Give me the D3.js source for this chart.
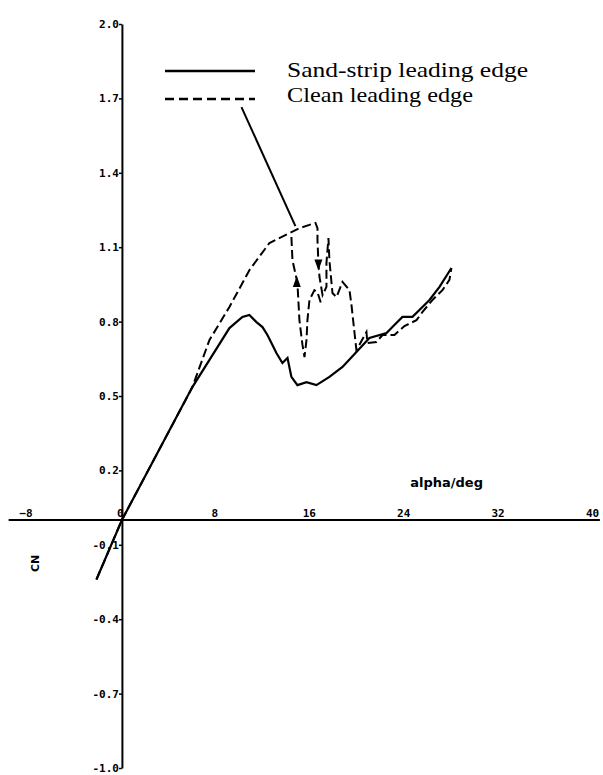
<!DOCTYPE html>
<html>
<head>
<meta charset="utf-8">
<script src="https://cdn.jsdelivr.net/npm/d3@7"></script>
<style>
  html, body { margin: 0; padding: 0; background: #fff; }
  svg { display: block; }
  .tick text { font-family: "DejaVu Sans Mono", monospace; font-weight: bold; font-size: 11px; fill: #000; }
</style>
</head>
<body>
<script>
// ---- data ----
const alphaTicks = [-8, 0, 8, 16, 24, 32, 40];
const cnTicks = [2.0, 1.7, 1.4, 1.1, 0.8, 0.5, 0.2, -0.1, -0.4, -0.7, -1.0];

// Sand-strip leading edge (solid)
const sandAlpha = [-2.16, 0, 5.97, 9.11, 10.21, 10.80, 11.40, 11.91, 12.33, 12.67, 13.09, 13.60, 14.03, 14.36, 14.87, 15.64, 16.48, 17.58, 18.69, 19.87, 20.97, 22.42, 22.92, 23.77, 24.62, 25.21, 26.06, 26.91, 27.92];
const sandCN    = [-0.24, 0, 0.536, 0.774, 0.819, 0.827, 0.798, 0.778, 0.746, 0.714, 0.673, 0.633, 0.653, 0.577, 0.544, 0.556, 0.544, 0.577, 0.617, 0.677, 0.734, 0.754, 0.778, 0.819, 0.819, 0.847, 0.887, 0.940, 1.016];

// Clean leading edge (dashed), main branch
const cleanAlpha = [-2.16, 0, 5.97, 7.42, 9.11, 10.81, 12.50, 14.19, 15.04, 15.89, 16.40, 16.57, 16.57, 16.65, 16.74, 17.00, 17.33, 17.33, 17.50, 17.58, 17.84, 18.18, 18.69, 19.28, 19.45, 19.70, 19.87, 20.72, 20.80, 21.57, 22.08, 23.09, 23.94, 24.96, 25.47, 26.31, 27.16, 27.75, 27.92];
const cleanCN    = [-0.24, 0, 0.536, 0.726, 0.859, 1.008, 1.117, 1.157, 1.177, 1.190, 1.198, 1.177, 1.129, 1.036, 0.980, 0.907, 0.940, 1.036, 1.137, 1.048, 0.915, 0.899, 0.960, 0.927, 0.867, 0.758, 0.685, 0.758, 0.714, 0.718, 0.746, 0.746, 0.782, 0.806, 0.839, 0.887, 0.927, 0.968, 1.016];

// Clean leading edge, hysteresis branch (reattachment)
const cleanLoopAlpha = [14.36, 14.45, 14.87, 15.04, 15.30, 15.47, 15.64, 15.72, 15.89, 16.31, 16.57, 16.91];
const cleanLoopCN    = [1.141, 1.048, 0.956, 0.806, 0.706, 0.657, 0.726, 0.806, 0.887, 0.927, 0.919, 0.867];

// Direction arrows on the clean curve
const arrowAlpha = [16.65, 14.82];
const arrowCN    = [1.03, 0.96];
const arrowDir   = [-1, 1];

// Legend leader line (from legend to curve)
const leaderAlpha = [10.13, 14.70];
const leaderCN    = [1.665, 1.185];

const legendLabels = ["Sand-strip leading edge", "Clean leading edge"];
const xLabel = "alpha/deg";
const yLabel = "CN";

// ---- drawing ----
const W = 603, H = 775;
const svg = d3.select("body").append("svg").attr("width", W).attr("height", H);

const x = d3.scaleLinear().domain([-8, 40]).range([27.5, 594]);
const y = d3.scaleLinear().domain([-1, 2]).range([768, 24]);

// x axis (line at CN = 0)
svg.append("line")
  .attr("x1", x(-9.6)).attr("x2", x(40.5))
  .attr("y1", y(0)).attr("y2", y(0))
  .attr("stroke", "#000").attr("stroke-width", 2);

const xAxis = svg.append("g")
  .attr("transform", `translate(-2,${y(0) - 3})`)
  .call(d3.axisTop(x).tickValues(alphaTicks).tickSize(0).tickPadding(0).tickFormat(d3.format("d")));
xAxis.select(".domain").remove();

// y axis
const yAxis = svg.append("g")
  .attr("transform", `translate(${x(0)},0)`)
  .call(d3.axisLeft(y).tickValues(cnTicks).tickSize(3).tickSizeOuter(0).tickPadding(0).tickFormat(d => d.toFixed(1)));
yAxis.select(".domain").attr("stroke", "#000").attr("stroke-width", 2);
yAxis.selectAll(".tick line").attr("stroke", "#000").attr("stroke-width", 1.5);

// axis titles
svg.append("text")
  .attr("x", 483).attr("y", y(0.135))
  .attr("text-anchor", "end")
  .attr("font-family", "DejaVu Sans, sans-serif").attr("font-weight", "bold").attr("font-size", 13)
  .text(xLabel);

svg.append("text")
  .attr("transform", `translate(${x(-7.0)},${y(-0.175)}) rotate(-90)`)
  .attr("text-anchor", "middle")
  .attr("font-family", "DejaVu Sans, sans-serif").attr("font-weight", "bold").attr("font-size", 11)
  .text(yLabel);

const line = d3.line().x(d => x(d[0])).y(d => y(d[1])).curve(d3.curveLinear);

const sand = sandAlpha.map((a, i) => [a, sandCN[i]]);
const clean = cleanAlpha.map((a, i) => [a, cleanCN[i]]);
const cleanLoop = cleanLoopAlpha.map((a, i) => [a, cleanLoopCN[i]]);

svg.append("path").datum(clean).attr("d", line)
  .attr("fill", "none").attr("stroke", "#000").attr("stroke-width", 2)
  .attr("stroke-dasharray", "9,4");
svg.append("path").datum(cleanLoop).attr("d", line)
  .attr("fill", "none").attr("stroke", "#000").attr("stroke-width", 2)
  .attr("stroke-dasharray", "9,4");
svg.append("path").datum(sand).attr("d", line)
  .attr("fill", "none").attr("stroke", "#000").attr("stroke-width", 2.2);

// arrows
arrowAlpha.forEach((a, i) => {
  const cx = x(a), cy = y(arrowCN[i]), d = arrowDir[i];
  svg.append("path")
    .attr("d", `M${cx - 4},${cy + 5 * d} L${cx + 4},${cy + 5 * d} L${cx},${cy - 6 * d} Z`)
    .attr("fill", "#000");
});

// leader line
svg.append("line")
  .attr("x1", x(leaderAlpha[0])).attr("y1", y(leaderCN[0]))
  .attr("x2", x(leaderAlpha[1])).attr("y2", y(leaderCN[1]))
  .attr("stroke", "#000").attr("stroke-width", 2);

// legend
const legX1 = 165, legX2 = 255, legTextX = 287;
const legRows = [{ y: 71, dash: null, ty: 77, w: 241 }, { y: 99, dash: "9,5", ty: 102, w: 186 }];
legRows.forEach((r, i) => {
  const l = svg.append("line")
    .attr("x1", legX1).attr("x2", legX2).attr("y1", r.y).attr("y2", r.y)
    .attr("stroke", "#000").attr("stroke-width", 2.5);
  if (r.dash) l.attr("stroke-dasharray", r.dash);
  svg.append("text")
    .attr("x", legTextX).attr("y", r.ty)
    .attr("font-family", "Liberation Serif, Times New Roman, serif").attr("font-size", 21)
    .attr("textLength", r.w).attr("lengthAdjust", "spacingAndGlyphs")
    .text(legendLabels[i]);
});
</script>
</body>
</html>
